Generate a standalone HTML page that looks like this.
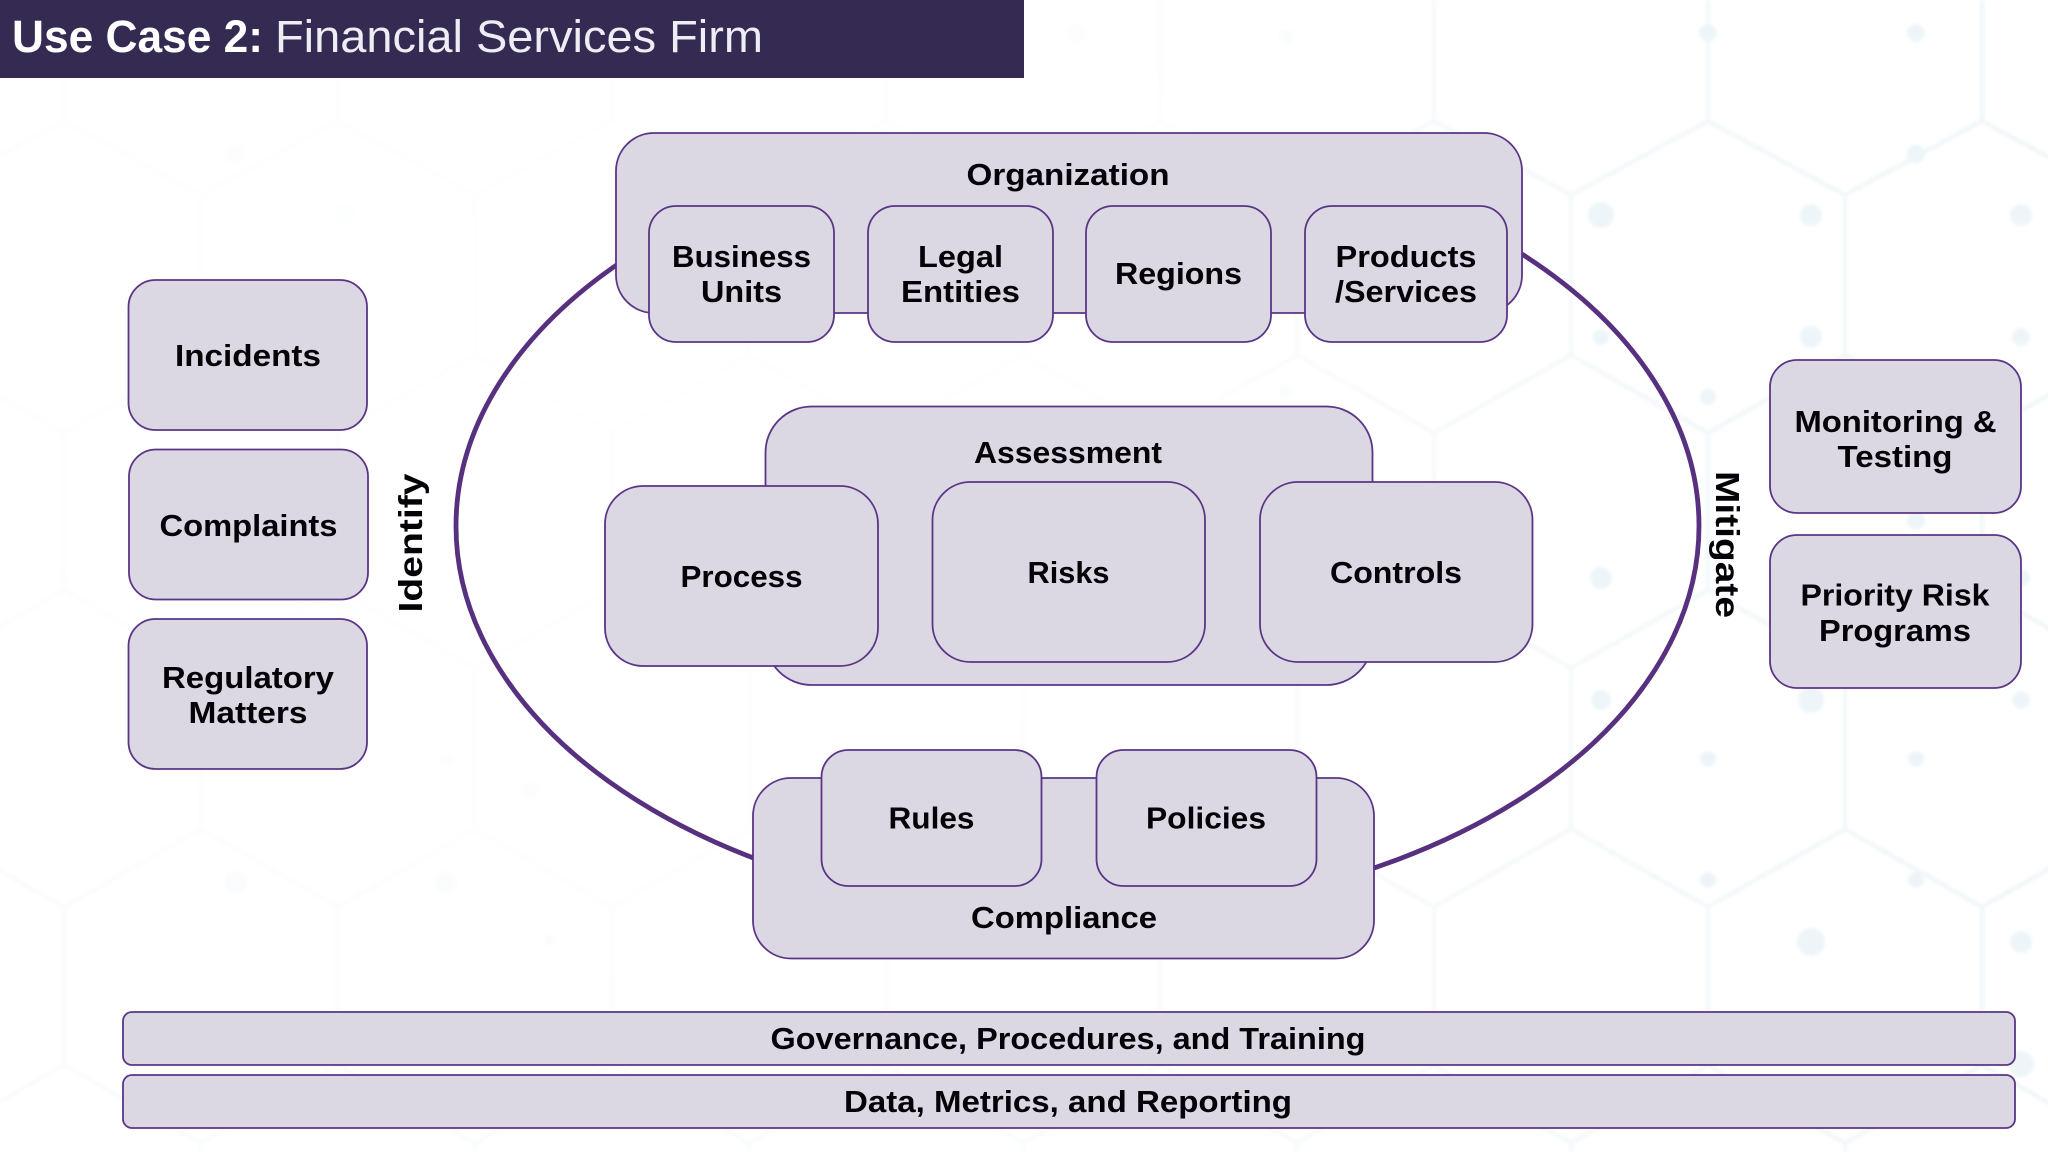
<!DOCTYPE html>
<html><head><meta charset="utf-8"><style>
html,body{margin:0;padding:0;background:#fff;width:2048px;height:1152px;overflow:hidden}
svg{display:block}
text{font-family:"Liberation Sans",sans-serif;font-weight:700;fill:#050308;text-anchor:middle;font-size:31px}
.b{fill:#dbd8e3;stroke:#5a3586;stroke-width:1.800}
</style></head><body>
<svg width="2048" height="1152" viewBox="0 0 2048 1152" xmlns="http://www.w3.org/2000/svg">
<defs>
<linearGradient id="g" gradientUnits="userSpaceOnUse" x1="0" y1="0" x2="2048" y2="0">
<stop offset="0" stop-color="#fafbfc"/><stop offset=".55" stop-color="#f9fbfc"/><stop offset="1" stop-color="#eef5f8"/></linearGradient>
<radialGradient id="f" gradientUnits="userSpaceOnUse" cx="600" cy="300" r="900">
<stop offset="0" stop-color="#fff" stop-opacity=".9"/><stop offset=".6" stop-color="#fff" stop-opacity=".6"/><stop offset="1" stop-color="#fff" stop-opacity="0"/></radialGradient>
<filter id="s"><feGaussianBlur stdDeviation="1.600"/></filter>
</defs>
<rect width="2048" height="1152" fill="#fff"/>
<g filter="url(#s)">
<path fill="none" stroke="url(#g)" stroke-width="4" d="
M-73 195L64 121L201 195L338 121L475 195L612 121L749 195L886 121L1023 195L1160 121L1297 195L1434 121L1571 195L1708 121L1845 195L1982 121L2119 195
M-73 355L64 433L201 355L338 433L475 355L612 433L749 355L886 433L1023 355L1160 433L1297 355L1434 433L1571 355L1708 433L1845 355L1982 433L2119 355
M-73 668L64 590L201 668L338 590L475 668L612 590L749 668L886 590L1023 668L1160 590L1297 668L1434 590L1571 668L1708 590L1845 668L1982 590L2119 668
M-73 829L64 907L201 829L338 907L475 829L612 907L749 829L886 907L1023 829L1160 907L1297 829L1434 907L1571 829L1708 907L1845 829L1982 907L2119 829
M-73 1143L64 1065L201 1143L338 1065L475 1143L612 1065L749 1143L886 1065L1023 1143L1160 1065L1297 1143L1434 1065L1571 1143L1708 1065L1845 1143L1982 1065L2119 1143
M64 0V121M338 0V121M612 0V121M886 0V121M1160 0V121M1434 0V121M1708 0V121M1982 0V121
M201 195V355M475 195V355M749 195V355M1023 195V355M1297 195V355M1571 195V355M1845 195V355
M64 433V590M338 433V590M612 433V590M886 433V590M1160 433V590M1434 433V590M1708 433V590M1982 433V590
M201 668V829M475 668V829M749 668V829M1023 668V829M1297 668V829M1571 668V829M1845 668V829
M64 907V1065M338 907V1065M612 907V1065M886 907V1065M1160 907V1065M1434 907V1065M1708 907V1065M1982 907V1065
M201 1143V1152M475 1143V1152M749 1143V1152M1023 1143V1152M1297 1143V1152M1571 1143V1152M1845 1143V1152"/>
<g fill="#edf5f9">
<circle cx="1601" cy="215" r="13"/><circle cx="1811" cy="215" r="11"/><circle cx="2021" cy="215" r="11"/>
<circle cx="1708" cy="33" r="9"/><circle cx="1916" cy="33" r="9"/><circle cx="1916" cy="154" r="9"/>
<circle cx="1601" cy="337" r="8"/><circle cx="1811" cy="337" r="11"/><circle cx="2021" cy="337" r="9"/>
<circle cx="1708" cy="397" r="8"/><circle cx="1601" cy="578" r="11"/><circle cx="1811" cy="578" r="9"/><circle cx="2021" cy="578" r="9"/>
<circle cx="1601" cy="700" r="10"/><circle cx="1811" cy="700" r="13"/><circle cx="2021" cy="700" r="9"/>
<circle cx="1916" cy="520" r="9"/><circle cx="1708" cy="759" r="8"/><circle cx="1916" cy="759" r="8"/>
<circle cx="1708" cy="880" r="8"/><circle cx="1916" cy="880" r="8"/>
<circle cx="1811" cy="942" r="14"/><circle cx="2021" cy="942" r="11"/><circle cx="2021" cy="1064" r="13"/>
</g>
<g fill="#f8fafc">
<circle cx="1077" cy="33" r="10"/><circle cx="1286" cy="37" r="7"/><circle cx="1286" cy="392" r="7"/>
<circle cx="235" cy="154" r="11"/><circle cx="345" cy="215" r="10"/><circle cx="236" cy="882" r="11"/><circle cx="446" cy="882" r="11"/>
<circle cx="446" cy="760" r="7"/><circle cx="530" cy="790" r="9"/><circle cx="550" cy="940" r="6"/>
</g>
</g>
<rect width="2048" height="1152" fill="url(#f)"/>

<rect x="0" y="0" width="1024" height="78" fill="#352b52"/>
<text x="137.500" y="52" textLength="251" lengthAdjust="spacingAndGlyphs" style="fill:#fff;font-size:45px">Use Case 2:</text>
<text x="519" y="52" textLength="488" lengthAdjust="spacingAndGlyphs" style="fill:#eeedf3;font-size:45px;font-weight:400">Financial Services Firm</text>

<ellipse cx="1077.500" cy="526" rx="621.500" ry="389" fill="none" stroke="#57307f" stroke-width="4.800"/>

<rect class="b" x="616" y="133" width="906" height="180" rx="38"/>
<rect class="b" x="649" y="206" width="185" height="136" rx="27"/>
<rect class="b" x="868" y="206" width="185" height="136" rx="27"/>
<rect class="b" x="1086" y="206" width="185" height="136" rx="27"/>
<rect class="b" x="1305" y="206" width="202" height="136" rx="27"/>

<rect class="b" x="765.500" y="406.500" width="607" height="278.500" rx="46"/>
<rect class="b" x="605" y="486" width="273" height="180" rx="38"/>
<rect class="b" x="932.500" y="482" width="272.500" height="180" rx="38"/>
<rect class="b" x="1260" y="482" width="272.500" height="180" rx="38"/>

<rect class="b" x="753" y="778" width="621" height="180.500" rx="38"/>
<rect class="b" x="821.500" y="750" width="220" height="136" rx="27"/>
<rect class="b" x="1096.500" y="750" width="220" height="136" rx="27"/>

<rect class="b" x="128.500" y="280" width="238.500" height="150" rx="27"/>
<rect class="b" x="129" y="449.500" width="239" height="150" rx="27"/>
<rect class="b" x="128.500" y="619" width="238.500" height="150" rx="27"/>

<rect class="b" x="1770" y="360" width="251" height="153" rx="27"/>
<rect class="b" x="1770" y="535" width="251" height="153" rx="27"/>

<rect class="b" x="123" y="1012" width="1892" height="53" rx="9"/>
<rect class="b" x="123" y="1075" width="1892" height="53" rx="9"/>

<text x="1068" y="185" textLength="203" lengthAdjust="spacingAndGlyphs">Organization</text>
<text x="741.500" y="267" textLength="139" lengthAdjust="spacingAndGlyphs">Business</text>
<text x="741.500" y="302" textLength="81" lengthAdjust="spacingAndGlyphs">Units</text>
<text x="960.500" y="267" textLength="85" lengthAdjust="spacingAndGlyphs">Legal</text>
<text x="960.500" y="302" textLength="119" lengthAdjust="spacingAndGlyphs">Entities</text>
<text x="1178.500" y="284" textLength="127" lengthAdjust="spacingAndGlyphs">Regions</text>
<text x="1406" y="267" textLength="141" lengthAdjust="spacingAndGlyphs">Products</text>
<text x="1406" y="302" textLength="142" lengthAdjust="spacingAndGlyphs">/Services</text>

<text x="1068" y="463" textLength="188" lengthAdjust="spacingAndGlyphs">Assessment</text>
<text x="741.500" y="587" textLength="122" lengthAdjust="spacingAndGlyphs">Process</text>
<text x="1068.500" y="583" textLength="82" lengthAdjust="spacingAndGlyphs">Risks</text>
<text x="1396" y="583" textLength="132" lengthAdjust="spacingAndGlyphs">Controls</text>

<text x="931.500" y="828.500" textLength="86" lengthAdjust="spacingAndGlyphs">Rules</text>
<text x="1206" y="828.500" textLength="120" lengthAdjust="spacingAndGlyphs">Policies</text>
<text x="1064" y="928" textLength="186" lengthAdjust="spacingAndGlyphs">Compliance</text>

<text x="248" y="366" textLength="146" lengthAdjust="spacingAndGlyphs">Incidents</text>
<text x="248.500" y="536" textLength="178" lengthAdjust="spacingAndGlyphs">Complaints</text>
<text x="248" y="688" textLength="172" lengthAdjust="spacingAndGlyphs">Regulatory</text>
<text x="248" y="723" textLength="119" lengthAdjust="spacingAndGlyphs">Matters</text>

<text x="1895.500" y="432" textLength="202" lengthAdjust="spacingAndGlyphs">Monitoring &amp;</text>
<text x="1895" y="467" textLength="115" lengthAdjust="spacingAndGlyphs">Testing</text>
<text x="1895" y="605.500" textLength="189" lengthAdjust="spacingAndGlyphs">Priority Risk</text>
<text x="1895" y="641" textLength="152" lengthAdjust="spacingAndGlyphs">Programs</text>

<text transform="translate(422 543) rotate(-90)" textLength="139" lengthAdjust="spacingAndGlyphs" style="font-size:33px">Identify</text>
<text transform="translate(1716 544.500) rotate(90)" textLength="147" lengthAdjust="spacingAndGlyphs" style="font-size:33px">Mitigate</text>

<text x="1068" y="1049" textLength="595" lengthAdjust="spacingAndGlyphs">Governance, Procedures, and Training</text>
<text x="1068" y="1112" textLength="448" lengthAdjust="spacingAndGlyphs">Data, Metrics, and Reporting</text>
</svg>
</body></html>
